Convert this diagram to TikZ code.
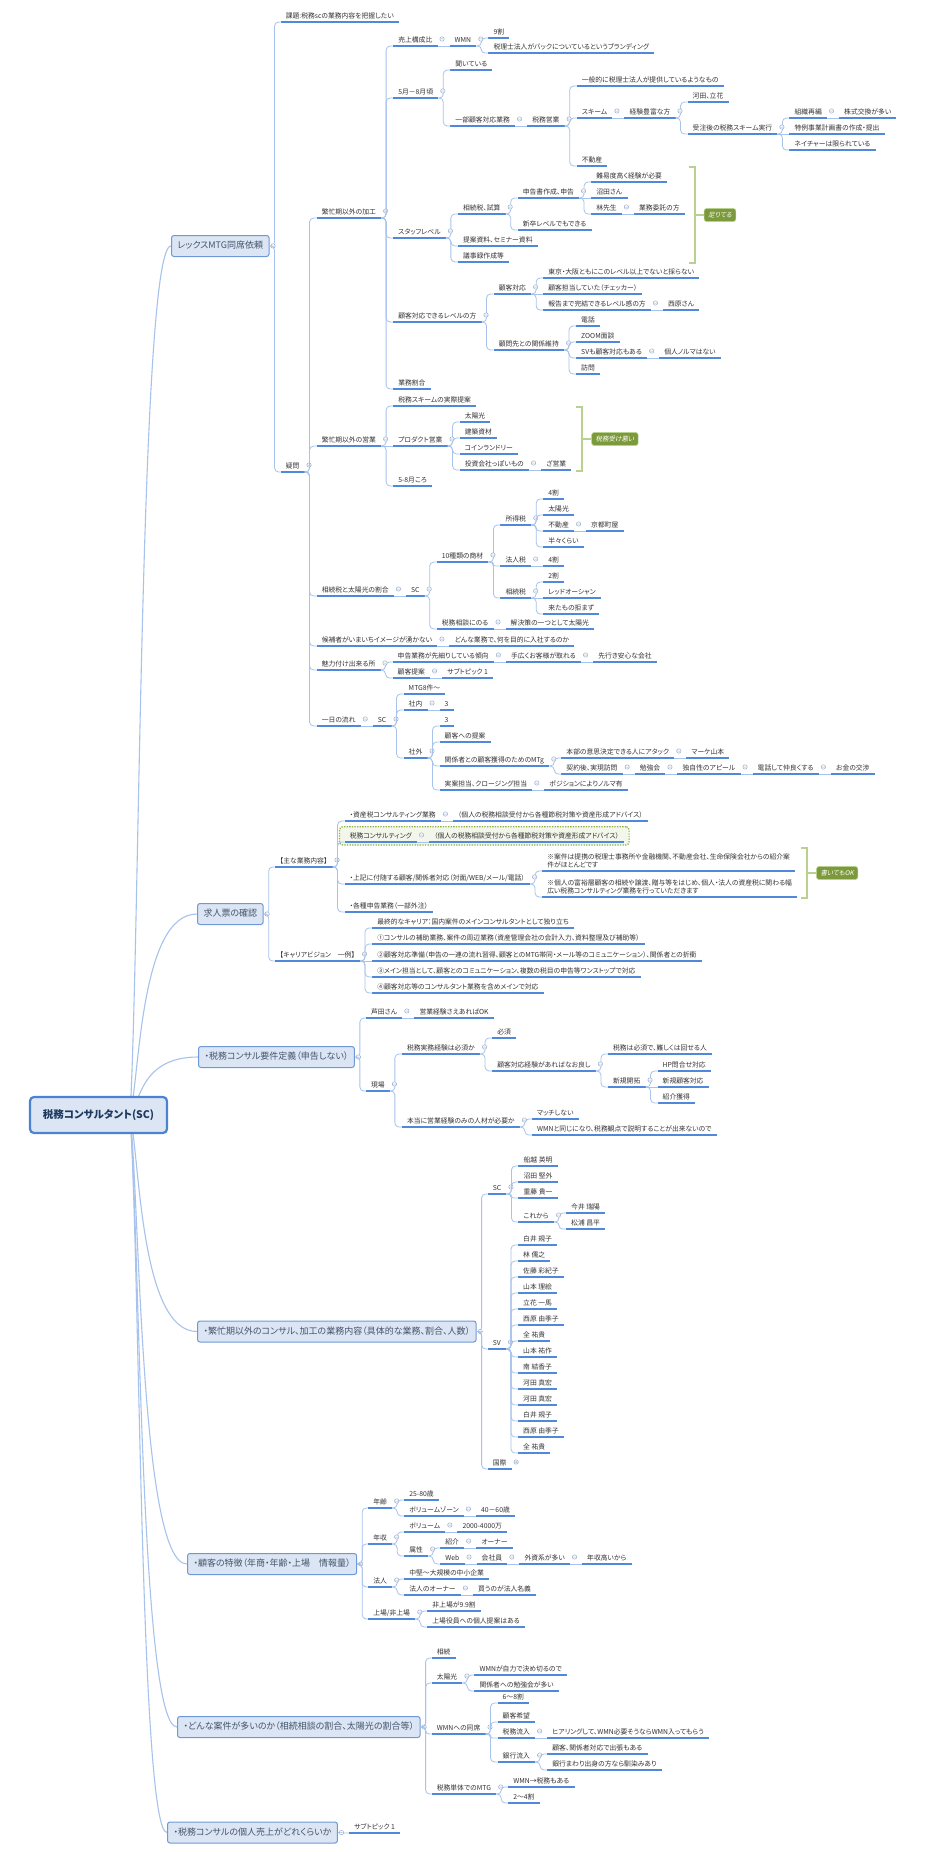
\documentclass[tikz,border=0pt]{standalone}
\usepackage{fontspec}
\newfontfamily\jp[RawFeature=+palt]{Noto Sans CJK JP}
\newfontfamily\jpit[RawFeature=+palt,FakeSlant=0.2]{Noto Sans CJK JP}
\usetikzlibrary{calc,fit,backgrounds}
\definecolor{ulc}{HTML}{5089DC}
\definecolor{cnc}{HTML}{A7C2EC}
\definecolor{mkc}{HTML}{9AAFCF}
\definecolor{txc}{HTML}{333333}
\definecolor{bxf}{HTML}{DBE5F3}
\definecolor{bxd}{HTML}{6D99D8}
\definecolor{bxt}{HTML}{44556E}
\definecolor{rtd}{HTML}{4C82D2}
\definecolor{rtt}{HTML}{1F3A60}
\definecolor{sgl}{HTML}{B9D18F}
\definecolor{sgf}{HTML}{7C9A3B}
\definecolor{bdd}{HTML}{8DB33A}
\definecolor{bdf}{HTML}{F3F6EA}
\newdimen\mmdy
\newcommand\mmlink[2]{%
  \pgfextracty{\mmdy}{\pgfpointdiff{\pgfpointanchor{#1}{center}}{\pgfpointanchor{#2}{south west}}}%
  \ifdim\mmdy<0pt \mmdy=-\mmdy\fi
  \ifdim\mmdy<0.5pt
    \draw[conn] (#1) -- (#2.south west);
  \else
    \ifdim\mmdy>8pt \mmdy=8pt\fi
    \draw[conn,rounded corners=0.5\mmdy] (#1) -- ++(5pt,0) |- (#2.south west);
  \fi}
\newcommand\mmmark[2]{%
  \ifcsname mmk@#1\endcsname\else
    \expandafter\gdef\csname mmk@#1\endcsname{}%
    \draw[mk] #2 circle (2.2pt) +(-1.2pt,0) -- +(1.2pt,0);
  \fi}
\newcommand\mm[5][]{%
  \path (#3.south east) ++(12pt,0) coordinate (mmx) (0,#4) coordinate (mmy);
  \node[mmt,#1] (#2) at (mmx |- mmy) {#5};
  \path (#3.south east) coordinate (mmst);
  \mmlink{mmst}{#2}%
  \mmmark{#3}{([shift={(4.5pt,7pt)}]#3.south east)}}
\newcommand\mmb[5][]{%
  \path (#3.east) ++(11pt,0) coordinate (mmx) (0,#4) coordinate (mmy);
  \node[mmt,#1] (#2) at (mmx |- mmy) {#5};
  \path (#3.east) coordinate (mmst);
  \mmlink{mmst}{#2}%
  \mmmark{#3}{([xshift=3.5pt]#3.east)}}
\newcommand\rootlink[2]{\draw[rconn] (130,1115) .. controls (140,{1115+0.2*(#2-1115)}) and (140,#2) .. (#1.west);}
\newcommand\smry[6]{%
  \draw[sumline] let \p1=(#1.south east) in
    (\x1+#2pt-6pt,-#3pt) -- (\x1+#2pt,-#3pt) -- (\x1+#2pt,-#4pt) -- (\x1+#2pt-6pt,-#4pt)
    (\x1+#2pt,-#5pt) -- (\x1+#2pt+9pt,-#5pt) node[sumlab] {#6};}
\begin{document}
\begin{tikzpicture}[x=1pt,y=-1pt,
  mmt/.style={anchor=south west, inner xsep=5pt, inner ysep=2.4pt, font=\jp\fontsize{6.8}{8.3}\selectfont, text=txc, text height=5.8pt, text depth=1.3pt,
     append after command={(\tikzlastnode.south west) edge[uline] (\tikzlastnode.south east)}},
  mmt2/.style={align=left, text height={}, text depth={}},
  uline/.style={draw=ulc, line width=1.5pt},
  conn/.style={draw=cnc, line width=0.8pt},
  mk/.style={draw=mkc, fill=white, line width=0.5pt},
  box/.style={anchor=west, draw=bxd, fill=bxf, line width=1pt, rounded corners=2.5pt, inner xsep=6pt, inner ysep=0pt, minimum height=21pt, text height=7.4pt, text depth=1.8pt, font=\jp\fontsize{9}{10.5}\selectfont, text=bxt},
  rootbox/.style={draw=rtd, fill=bxf, line width=2.2pt, rounded corners=4pt, minimum width=137pt, minimum height=36pt, font=\jp\bfseries\fontsize{10.5}{12}\selectfont, text=rtt},
  rconn/.style={draw=cnc, line width=1.1pt},
  sumline/.style={draw=sgl, line width=2pt},
  sumlab/.style={anchor=west, fill=sgf, draw=sgl, line width=0.6pt, rounded corners=2.5pt, text=white, font=\jpit\fontsize{6.5}{7}\selectfont, inner xsep=4pt, inner ysep=0pt, minimum height=13pt},
  bndry/.style={draw=bdd, fill=bdf, rounded corners=3pt, line width=1.2pt, dash pattern=on 1.3pt off 1.3pt, inner xsep=5pt, inner ysep=3pt},
]
\useasboundingbox (0,0) rectangle (924,1852);
% main topics
\node[box] (T1) at (171,246) {レックスMTG同席依頼};
\node[box] (T2) at (197,914) {求人票の確認};
\node[box] (T3) at (198,1057) {・税務コンサル要件定義（申告しない）};
\node[box] (T4) at (197,1331.5) {・繁忙期以外のコンサル、加工の業務内容（具体的な業務、割合、人数）};
\node[box] (T5) at (187,1564) {・顧客の特徴（年商・年齢・上場　情報量）};
\node[box] (T6) at (177,1727) {・どんな案件が多いのか（相続相談の割合、太陽光の割合等）};
\node[box] (T7) at (167,1832.5) {・税務コンサルの個人売上がどれくらいか};
\rootlink{T1}{246}
\rootlink{T2}{914}
\rootlink{T3}{1057}
\rootlink{T4}{1331.5}
\rootlink{T5}{1564}
\rootlink{T6}{1727}
\rootlink{T7}{1832.5}
\node[rootbox] (root) at (98.5,1115) {税務コンサルタント(SC)};
% ---------- section 1
\mmb{a1}{T1}{22}{課題:税務scの業務内容を把握したい}
\mmb{a2}{T1}{472}{疑問}
\mm{b1}{a2}{218}{繁忙期以外の加工}
\mm{b2}{a2}{446}{繁忙期以外の営業}
\mm{b3}{a2}{596}{相続税と太陽光の割合}
\mm{b4}{a2}{646}{候補者がいまいちイメージが湧かない}
\mm{b5}{a2}{670}{魅力付け出来る所}
\mm{b6}{a2}{726}{一日の流れ}
\mm{c1}{b1}{46}{売上構成比}
\mm{c1a}{c1}{46}{WMN}
\mm{c1a1}{c1a}{38}{9割}
\mm{c1a2}{c1a}{53}{税理士法人がバックについているというブランディング}
\mm{c2}{b1}{98}{5月－8月頃}
\mm{c2a}{c2}{70}{聞いている}
\mm{c2b}{c2}{126}{一部顧客対応業務}
\mm{c2b1}{c2b}{126}{税務営業}
\mm{d1}{c2b1}{86}{一般的に税理士法人が提供しているようなもの}
\mm{d2}{c2b1}{118}{スキーム}
\mm{d2a}{d2}{118}{経験豊富な方}
\mm{d2a1}{d2a}{102}{河田、立花}
\mm{d2a2}{d2a}{134}{受注後の税務スキーム実行}
\mm{e1}{d2a2}{118}{組織再編}
\mm{e1a}{e1}{118}{株式交換が多い}
\mm{e2}{d2a2}{134}{特例事業計画書の作成・提出}
\mm{e3}{d2a2}{150}{ネイチャーは限られている}
\mm{d3}{c2b1}{166}{不動産}
\mm{c3}{b1}{238}{スタッフレベル}
\mm{c3a}{c3}{214}{相続税、試算}
\mm{c3a1}{c3a}{198}{申告書作成、申告}
\mm{f1}{c3a1}{182}{難易度高く経験が必要}
\mm{f2}{c3a1}{198}{沼田さん}
\mm{f3}{c3a1}{214}{林先生}
\mm{f3a}{f3}{214}{業務委託の方}
\mm{c3a2}{c3a}{230}{新卒レベルでもできる}
\mm{c3b}{c3}{246}{提案資料、セミナー資料}
\mm{c3c}{c3}{262}{議事録作成等}
\mm{c4}{b1}{322}{顧客対応できるレベルの方}
\mm{c4a}{c4}{294}{顧客対応}
\mm{g1}{c4a}{278}{東京・大阪ともにこのレベル以上でないと採らない}
\mm{g2}{c4a}{294}{顧客担当していた（チェッカー）}
\mm{g3}{c4a}{310}{報告まで完結できるレベル感の方}
\mm{g3a}{g3}{310}{西原さん}
\mm{c4b}{c4}{350}{顧問先との関係維持}
\mm{h1}{c4b}{326}{電話}
\mm{h2}{c4b}{342}{ZOOM面談}
\mm{h3}{c4b}{358}{SVも顧客対応もある}
\mm{h3a}{h3}{358}{個人ノルマはない}
\mm{h4}{c4b}{374}{訪問}
\mm{c5}{b1}{389}{業務割合}
\mm{i1}{b2}{406}{税務スキームの実際提案}
\mm{i2}{b2}{446}{プロダクト営業}
\mm{i2a}{i2}{422}{太陽光}
\mm{i2b}{i2}{438}{建築資材}
\mm{i2c}{i2}{454}{コインランドリー}
\mm{i2d}{i2}{470}{投資会社っぽいもの}
\mm{i2d1}{i2d}{470}{ざ営業}
\mm{i3}{b2}{486}{5-8月ころ}
\mm{j1}{b3}{596}{SC}
\mm{j1a}{j1}{562}{10種類の商材}
\mm{k1}{j1a}{525}{所得税}
\mm{k1a}{k1}{499}{4割}
\mm{k1b}{k1}{515}{太陽光}
\mm{k1c}{k1}{531}{不動産}
\mm{k1c1}{k1c}{531}{京都町屋}
\mm{k1d}{k1}{547}{半々くらい}
\mm{k2}{j1a}{566}{法人税}
\mm{k2a}{k2}{566}{4割}
\mm{k3}{j1a}{598}{相続税}
\mm{k3a}{k3}{582}{2割}
\mm{k3b}{k3}{598}{レッドオーシャン}
\mm{k3c}{k3}{614}{来たもの拒まず}
\mm{j1b}{j1}{629}{税務相談にのる}
\mm{j1b1}{j1b}{629}{解決策の一つとして太陽光}
\mm{l1}{b4}{646}{どんな業務で、何を目的に入社するのか}
\mm{m1}{b5}{662}{申告業務が先細りしている傾向}
\mm{m1a}{m1}{662}{手広くお客様が取れる}
\mm{m1b}{m1a}{662}{先行き安心な会社}
\mm{m2}{b5}{678}{顧客提案}
\mm{m2a}{m2}{678}{サブトピック 1}
\mm{n1}{b6}{726}{SC}
\mm{n1a}{n1}{694}{MTG8件～}
\mm{n1b}{n1}{710}{社内}
\mm{n1b1}{n1b}{710}{3}
\mm{n1c}{n1}{758}{社外}
\mm{o1}{n1c}{726}{3}
\mm{o2}{n1c}{742}{顧客への提案}
\mm{o3}{n1c}{766}{関係者との顧客獲得のためのMTg}
\mm{o3a}{o3}{758}{本部の意思決定できる人にアタック}
\mm{o3a1}{o3a}{758}{マーケ山本}
\mm{o3b}{o3}{774}{契約後、実現訪問}
\mm{o3b1}{o3b}{774}{勉強会}
\mm{o3b2}{o3b1}{774}{独自性のアピール}
\mm{o3b3}{o3b2}{774}{電話して仲良くする}
\mm{o3b4}{o3b3}{774}{お金の交渉}
\mm{o4}{n1c}{790}{実案担当、クロージング担当}
\mm{o4a}{o4}{790}{ポジションによりノルマ有}
\smry{f3a}{10}{167}{263}{215}{足りてる}
\smry{i2d1}{11}{407}{471}{439}{税務受け悪い}
% ---------- section 2
\mmb{p1}{T2}{867}{【主な業務内容】}
\mmb{p2}{T2}{961}{【キャリアビジョン　一例】}
\mm{q1}{p1}{821}{・資産税コンサルティング業務}
\mm{q1a}{q1}{821}{（個人の税務相談受付から各種節税対策や資産形成アドバイス）}
\mm{q2}{p1}{842}{税務コンサルティング}
\mm{q2a}{q2}{842}{（個人の税務相談受付から各種節税対策や資産形成アドバイス）}
\mm{q3}{p1}{884}{・上記に付随する顧客/関係者対応（対面/WEB/メール/電話）}
\mm[mmt2]{q3a}{q3}{871}{※案件は提携の税理士事務所や金融機関、不動産会社、生命保険会社からの紹介案\\件がほとんどです}
\mm[mmt2]{q3b}{q3}{897}{※個人の富裕層顧客の相続や譲渡、贈与等をはじめ、個人・法人の資産税に関わる幅\\広い税務コンサルティング業務を行っていただきます}
\mm{q4}{p1}{912}{・各種申告業務（一部外注）}
\mm{r1}{p2}{928}{最終的なキャリア：国内案件のメインコンサルタントとして独り立ち}
\mm{r2}{p2}{944}{①コンサルの補助業務、案件の周辺業務（資産管理会社の会計入力、資料整理及び補助等）}
\mm{r3}{p2}{961}{②顧客対応準備（申告の一連の流れ習得、顧客とのMTG帯同・メール等のコミュニケーション）、関係者との折衝}
\mm{r4}{p2}{977}{③メイン担当として、顧客とのコミュニケーション、複数の税目の申告等ワンストップで対応}
\mm{r5}{p2}{993}{④顧客対応等のコンサルタント業務を含めメインで対応}
\smry{q3a}{12}{848}{898}{873}{書いてもOK}
% ---------- section 3
\mmb{s1}{T3}{1018}{芦田さん}
\mm{s1a}{s1}{1018}{営業経験さえあればOK}
\mmb{u0}{T3}{1091}{現場}
\mm{u1}{u0}{1054}{税務実務経験は必須か}
\mm{u1a}{u1}{1038}{必須}
\mm{u1b}{u1}{1071}{顧客対応経験があればなお良し}
\mm{u1b1}{u1b}{1054}{税務は必須で、難しくは回せる人}
\mm{u1b2}{u1b}{1087}{新規開拓}
\mm{u1b2a}{u1b2}{1071}{HP問合せ対応}
\mm{u1b2b}{u1b2}{1087}{新規顧客対応}
\mm{u1b2c}{u1b2}{1103}{紹介獲得}
\mm{u2}{u0}{1127}{本当に営業経験のみの人材が必要か}
\mm{u2a}{u2}{1119}{マッチしない}
\mm{u2b}{u2}{1135}{WMNと同じになり、税務観点で説明することが出来ないので}
% ---------- section 4
\mmb{v1}{T4}{1194}{SC}
\mm{v1a}{v1}{1166}{船越 英明}
\mm{v1b}{v1}{1182}{沼田 堅外}
\mm{v1c}{v1}{1198}{重藤 貴一}
\mm{v1d}{v1}{1222}{これから}
\mm{v1d1}{v1d}{1213}{今井 瑞陽}
\mm{v1d2}{v1d}{1229}{松浦 昌平}
\mmb{v2}{T4}{1349}{SV}
\mm{v2a}{v2}{1245}{白井 規子}
\mm{v2b}{v2}{1261}{林 儒之}
\mm{v2c}{v2}{1277}{佐藤 彩紀子}
\mm{v2d}{v2}{1293}{山本 理絵}
\mm{v2e}{v2}{1309}{立花 一馬}
\mm{v2f}{v2}{1325}{西原 由季子}
\mm{v2g}{v2}{1341}{全 祐貴}
\mm{v2h}{v2}{1357}{山本 祐作}
\mm{v2i}{v2}{1373}{南 結香子}
\mm{v2j}{v2}{1389}{河田 真宏}
\mm{v2k}{v2}{1405}{河田 真宏}
\mm{v2l}{v2}{1421}{白井 規子}
\mm{v2m}{v2}{1437}{西原 由季子}
\mm{v2n}{v2}{1453}{全 祐貴}
\mmb{v3}{T4}{1469}{国際}
\draw[mk] ([shift={(4.5pt,7pt)}]v3.south east) circle (2.2pt) +(-1.2pt,0) -- +(1.2pt,0) +(0,-1.2pt) -- +(0,1.2pt);
% ---------- section 5
\mmb{w1}{T5}{1508}{年齢}
\mm{w1a}{w1}{1500}{25-80歳}
\mm{w1b}{w1}{1516}{ボリュームゾーン}
\mm{w1b1}{w1b}{1516}{40－60歳}
\mmb{w2}{T5}{1544}{年収}
\mm{w2a}{w2}{1532}{ボリューム}
\mm{w2a1}{w2a}{1532}{2000-4000万}
\mm{w2b}{w2}{1556}{属性}
\mm{w2b1}{w2b}{1548}{紹介}
\mm{w2b1a}{w2b1}{1548}{オーナー}
\mm{w2b2}{w2b}{1564}{Web}
\mm{w2b2a}{w2b2}{1564}{会社員}
\mm{w2b2b}{w2b2a}{1564}{外資系が多い}
\mm{w2b2c}{w2b2b}{1564}{年収高いから}
\mmb{w3}{T5}{1587}{法人}
\mm{w3a}{w3}{1579}{中堅～大規模の中小企業}
\mm{w3b}{w3}{1595}{法人のオーナー}
\mm{w3b1}{w3b}{1595}{買うのが法人名義}
\mmb{w4}{T5}{1619}{上場/非上場}
\mm{w4a}{w4}{1611}{非上場が9.9割}
\mm{w4b}{w4}{1627}{上場役員への個人提案はある}
% ---------- section 6
\mmb{x1}{T6}{1658}{相続}
\mmb{x2}{T6}{1683}{太陽光}
\mm{x2a}{x2}{1675}{WMNが自力で決め切るので}
\mm{x2b}{x2}{1691}{関係者への勉強会が多い}
\mmb{x3}{T6}{1734}{WMNへの同席}
\mm{x3a}{x3}{1703}{6～8割}
\mm{x3b}{x3}{1722}{顧客希望}
\mm{x3c}{x3}{1738}{税務流入}
\mm{x3c1}{x3c}{1738}{ヒアリングして、WMN必要そうならWMN入ってもらう}
\mm{x3d}{x3}{1762}{銀行流入}
\mm{x3d1}{x3d}{1754}{顧客、関係者対応で出張もある}
\mm{x3d2}{x3d}{1770}{銀行まわり出身の方なら馴染みあり}
\mmb{x4}{T6}{1794}{税務単体でのMTG}
\mm{x4a}{x4}{1787}{WMN→税務もある}
\mm{x4b}{x4}{1803}{2～4割}
% ---------- section 7
\mmb{y1}{T7}{1833}{サブトピック 1}
% backgrounds
\begin{pgfonlayer}{background}
  \fill[white] (0,0) rectangle (924,1852);
  \node[bndry, fit=(q2)(q2a)] {};
\end{pgfonlayer}
\end{tikzpicture}
\end{document}
